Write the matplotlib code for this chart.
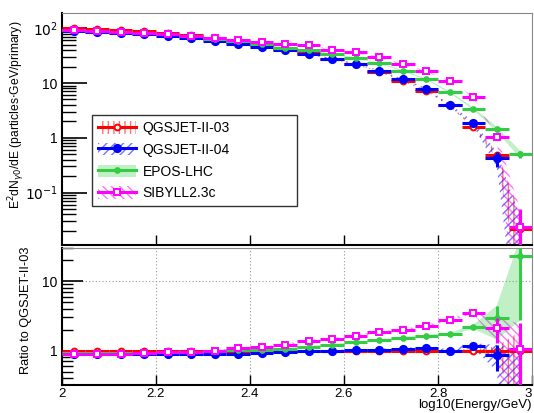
import matplotlib
matplotlib.use('Agg')
import matplotlib.pyplot as plt
import numpy as np
from matplotlib.patches import Patch
from matplotlib.lines import Line2D
from matplotlib.ticker import LogLocator, NullFormatter, FixedLocator, FuncFormatter

plt.rcParams['font.family'] = ['Liberation Sans', 'DejaVu Sans']
plt.rcParams['hatch.linewidth'] = 1.0

# bin centres, log10(E/GeV)
bin_centers = [2.025, 2.075, 2.125, 2.175, 2.225, 2.275, 2.325, 2.375, 2.425, 2.475,
               2.525, 2.575, 2.625, 2.675, 2.725, 2.775, 2.825, 2.875, 2.925, 2.975]
bin_half = 0.025

# spectra (E^2 dN/dE)
qgs03 = [103, 98, 94, 88, 82, 74, 66, 57, 50, 42,
         35, 27.5, 22, 16.2, 11, 7.2, 3.9, 1.55, 0.49, 0.022]
qgs04 = [90.6, 86.2, 82.7, 77.4, 72.2, 65.9, 58.1, 51.3, 46, 39.9,
         34, 27.5, 22.4, 16.7, 11.7, 7.8, 3.9, 1.83, 0.42, 0.005]
epos = [93.7, 89.2, 85.5, 81, 77.1, 71, 64.7, 58.1, 51.5, 44.5,
        39.9, 33.5, 28.8, 23, 16.7, 11.8, 6.75, 3.41, 1.44, 0.50]
sibyll = [92.7, 88.2, 84.6, 81.8, 77.9, 71.8, 66, 61.6, 55.5, 51.2,
          48.7, 40.4, 36.1, 29.6, 21.8, 16.4, 10.8, 5.46, 1.03, 0.0233]

# absolute errors on the spectra
qgs03_err = [2, 2, 2, 1.8, 1.6, 1.5, 1.3, 1.2, 1.0, 0.9,
             0.7, 0.6, 0.5, 0.4, 0.3, 0.2, 0.12, 0.08, 0.07, 0.02]
qgs04_err = [2, 2, 1.8, 1.6, 1.5, 1.4, 1.2, 1.1, 1.0, 0.8,
             0.7, 0.6, 0.5, 0.4, 0.35, 0.3, 0.2, 0.18, 0.13, 0.03]
epos_err = [2, 2, 1.8, 1.6, 1.5, 1.4, 1.2, 1.1, 1.0, 0.9,
            0.8, 0.7, 0.6, 0.5, 0.4, 0.3, 0.25, 0.17, 0.14, 0.08]
sibyll_err = [2, 2, 1.8, 1.6, 1.5, 1.4, 1.2, 1.1, 1.0, 0.9,
              0.8, 0.7, 0.6, 0.5, 0.4, 0.3, 0.25, 0.2, 0.1, 0.026]

# errors on the ratios to QGSJET-II-03
qgs03_rerr = [0.02, 0.02, 0.02, 0.02, 0.02, 0.02, 0.02, 0.02, 0.02, 0.02,
              0.02, 0.02, 0.02, 0.02, 0.03, 0.03, 0.03, 0.05, 0.15, 0.9]
qgs04_rerr = [0.02, 0.02, 0.02, 0.02, 0.02, 0.02, 0.02, 0.02, 0.02, 0.02,
              0.02, 0.02, 0.03, 0.03, 0.04, 0.04, 0.05, 0.1, 0.35, 0.8]
epos_rerr = [0.02, 0.02, 0.02, 0.02, 0.02, 0.02, 0.02, 0.02, 0.02, 0.03,
             0.03, 0.03, 0.03, 0.04, 0.05, 0.05, 0.07, 0.15, 1.5, 20]
sibyll_rerr = [0.02, 0.02, 0.02, 0.02, 0.02, 0.02, 0.02, 0.02, 0.03, 0.03,
               0.04, 0.04, 0.05, 0.05, 0.06, 0.07, 0.1, 0.15, 0.8, 1.4]

labels = ['QGSJET-II-03', 'QGSJET-II-04', 'EPOS-LHC', 'SIBYLL2.3c']
colors = ['#ff0000', '#0000ff', '#33cc44', '#ff00ff']

x = np.array(bin_centers)
spectra = [np.array(s) for s in (qgs03, qgs04, epos, sibyll)]
errs = [np.array(e) for e in (qgs03_err, qgs04_err, epos_err, sibyll_err)]
rerrs = [np.array(e) for e in (qgs03_rerr, qgs04_rerr, epos_rerr, sibyll_rerr)]
ref = spectra[0]

styles = [
    dict(marker='o', ms=4.2, mfc='white', hatch='|||', band_alpha=0.0),
    dict(marker='o', ms=5.2, mfc='#0000ff', hatch='////', band_alpha=0.0),
    dict(marker='o', ms=3.4, mfc='#33cc44', hatch=None, band_alpha=0.3),
    dict(marker='s', ms=4.6, mfc='white', hatch='\\\\\\\\', band_alpha=0.0),
]

fig = plt.figure(figsize=(5.34, 4.13), dpi=100)
ax1 = fig.add_axes([0.116, 0.4068, 0.8803, 0.5617])
ax2 = fig.add_axes([0.116, 0.0678, 0.8803, 0.3317])


def draw(ax, y, e, i):
    c = colors[i]
    st = styles[i]
    # keep the lower edge positive for the log axis
    low_edge = np.maximum(y - e, 1e-4)
    lo = y - low_edge
    if st['hatch'] is None:
        ax.fill_between(x, low_edge, y + e, facecolor=c, alpha=st['band_alpha'],
                        lw=0, zorder=1)
    else:
        ax.fill_between(x, low_edge, y + e, facecolor='none', edgecolor=c,
                        hatch=st['hatch'], lw=0, alpha=0.55, zorder=1)
    ax.errorbar(x, y, xerr=bin_half, yerr=[lo, e], fmt='none', ecolor=c,
                elinewidth=2.2, capsize=0, zorder=3 + i)
    ax.plot(x, y, ls='none', marker=st['marker'], ms=st['ms'], mfc=st['mfc'],
            mec=c, mew=1.4, zorder=3.5 + i)


order = [0, 1, 3, 2]
for i in order:
    draw(ax1, spectra[i], errs[i], i)
    draw(ax2, spectra[i] / ref, rerrs[i], i)

# upper panel
ax1.set_yscale('log')
ax1.set_xlim(2, 3)
ax1.set_ylim(0.011, 190)
ax1.set_xticks([2.2, 2.4, 2.6, 2.8])
ax1.xaxis.set_minor_locator(FixedLocator([]))
ax1.tick_params(axis='x', labelbottom=False, direction='in', length=7, width=1)
ax1.yaxis.set_major_locator(FixedLocator([0.1, 1, 10, 100]))
ax1.yaxis.set_major_formatter(FuncFormatter(
    lambda v, p: {0.1: r'$10^{-1}$', 1: '1', 10: '10', 100: r'$10^{2}$'}.get(round(v, 3), '')))
ax1.yaxis.set_minor_locator(LogLocator(base=10, subs=np.arange(2, 10), numticks=20))
ax1.yaxis.set_minor_formatter(NullFormatter())
ax1.tick_params(axis='y', which='major', direction='in', length=18, width=1.2, labelsize=10, pad=3)
ax1.tick_params(axis='y', which='minor', direction='in', length=10, width=1)
ax1.set_ylabel(r'E$^{2}$dN$_{\gamma0}$/dE (particles$\cdot$GeV/primary)', fontsize=8.7)
ax1.yaxis.set_label_coords(-0.074, 0.56)

# lower panel
ax2.set_yscale('log')
ax2.set_xlim(2, 3)
ax2.set_ylim(0.32, 30)
ax2.set_xticks([2, 2.2, 2.4, 2.6, 2.8, 3])
ax2.set_xticklabels(['2', '2.2', '2.4', '2.6', '2.8', '3'])
ax2.get_xticklabels()[-1].set_horizontalalignment('right')
ax2.tick_params(axis='x', direction='in', length=7, width=1, labelsize=9.5, pad=2)
ax2.yaxis.set_major_locator(FixedLocator([1, 10]))
ax2.yaxis.set_major_formatter(FuncFormatter(lambda v, p: '%g' % v))
ax2.yaxis.set_minor_locator(LogLocator(base=10, subs=np.arange(2, 10), numticks=20))
ax2.yaxis.set_minor_formatter(NullFormatter())
ax2.tick_params(axis='y', which='major', direction='in', length=15, width=1.2, labelsize=10, pad=3)
ax2.tick_params(axis='y', which='minor', direction='in', length=8, width=1)
ax2.grid(True, which='major', ls=(0, (1, 2)), color='#999999', lw=0.8)
ax2.set_axisbelow(True)
ax2.set_ylabel('Ratio to QGSJET-II-03', fontsize=9.2)
ax2.yaxis.set_label_coords(-0.064, 0.547)
ax2.set_xlabel('log10(Energy/GeV)', fontsize=9.5)
ax2.xaxis.set_label_coords(1.0, -0.10)
ax2.xaxis.label.set_horizontalalignment('right')

for ax in (ax1, ax2):
    for side in ('top', 'right'):
        ax.spines[side].set_color('#888888')
    for side in ('left', 'bottom'):
        ax.spines[side].set_linewidth(1.5)

# legend
handles = []
for i in range(4):
    st = styles[i]
    if st['hatch'] is None:
        p = Patch(facecolor=colors[i], alpha=0.3, lw=0)
    else:
        p = Patch(facecolor='none', edgecolor=colors[i], hatch=st['hatch'], lw=0, alpha=0.55)
    ln = Line2D([], [], color=colors[i], lw=2.2, marker=st['marker'], ms=st['ms'],
                mfc=st['mfc'], mec=colors[i], mew=1.4)
    handles.append((p, ln))
leg = ax1.legend(handles, labels, loc='upper left', mode='expand',
                 bbox_to_anchor=(0.0638, 0.159, 0.436, 0.401),
                 frameon=True, fancybox=False, edgecolor='black', fontsize=10,
                 handlelength=2.7, handleheight=1.0, labelspacing=0.55,
                 borderpad=0.45, handletextpad=0.5, borderaxespad=0)
leg.get_frame().set_linewidth(1.0)

fig.savefig('out.png', dpi=100)
